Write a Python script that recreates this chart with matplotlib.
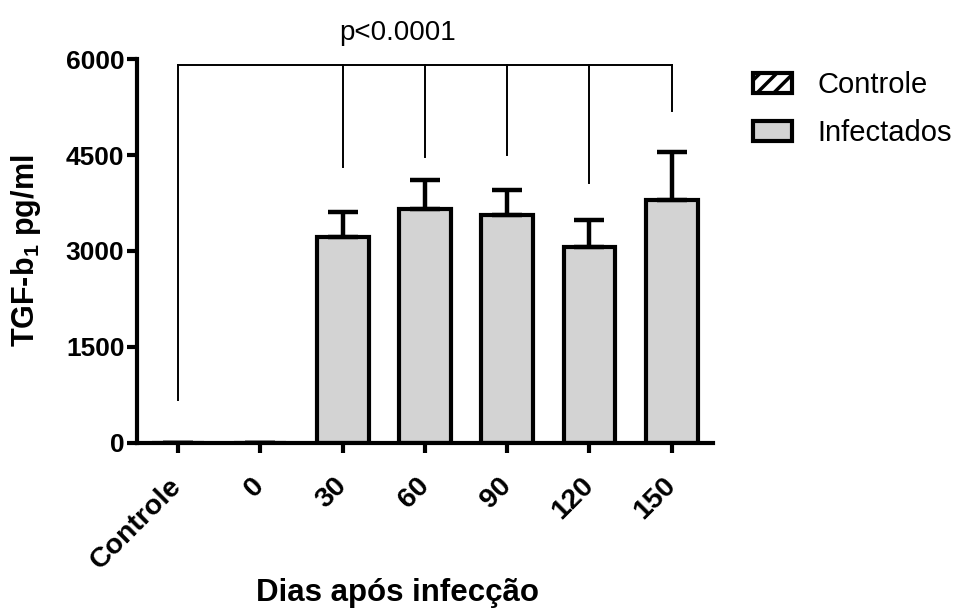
import numpy as np
import matplotlib
matplotlib.use("Agg")
import matplotlib.pyplot as plt
from matplotlib.patches import Patch
from matplotlib.transforms import ScaledTranslation

plt.rcParams['font.family'] = ['Liberation Sans', 'DejaVu Sans']
plt.rcParams['mathtext.fontset'] = 'custom'
plt.rcParams['mathtext.rm'] = 'Liberation Sans'
plt.rcParams['mathtext.bf'] = 'Liberation Sans:bold'
plt.rcParams['mathtext.default'] = 'bf'
plt.rcParams['hatch.linewidth'] = 2.5

# data
categories = ['Controle', '0', '30', '60', '90', '120', '150']
means = [0, 0, 3220, 3650, 3560, 3065, 3790]
sem = [0, 0, 385, 460, 390, 420, 760]
groups = ['Controle', 'Infectados', 'Infectados', 'Infectados', 'Infectados', 'Infectados', 'Infectados']

# significance bracket: top level and where each drop line stops
bracket_top = 5900
bracket_ends = [670, None, 4320, 4470, 4500, 4070, 5190]
p_label = 'p<0.0001'

x = np.arange(len(categories))

fig = plt.figure(figsize=(9.64, 6.09), dpi=100)
ax = fig.add_axes([0.142, 0.2726, 0.5975, 0.6305])

face = {'Controle': 'white', 'Infectados': '#d3d3d3'}
hatch = {'Controle': '//', 'Infectados': None}
ax.bar(x, means, width=0.63, color=[face[g] for g in groups],
       hatch=[hatch[g] for g in groups], edgecolor='black', linewidth=3, zorder=2)
ax.errorbar(x, means, yerr=[np.zeros(len(sem)), sem], fmt='none', ecolor='black',
            elinewidth=3.2, capsize=10.5, capthick=3.2, zorder=3)

# bracket
drop_x = [xi for xi, e in zip(x, bracket_ends) if e is not None]
drop_y = [e for e in bracket_ends if e is not None]
ax.plot([drop_x[0], drop_x[-1]], [bracket_top, bracket_top], color='black', lw=1.4,
        clip_on=False, zorder=4)
for xi, yi in zip(drop_x, drop_y):
    ax.plot([xi, xi], [bracket_top, yi], color='black', lw=1.4, clip_on=False, zorder=4)
ax.text(2.67, 6400, p_label, ha='center', va='center', fontsize=20, clip_on=False)

ax.set_xlim(-0.5, 6.5)
ax.set_ylim(0, 6000)
ax.set_yticks([0, 1500, 3000, 4500, 6000])
ax.set_xticks(x)
ax.set_xticklabels(categories, rotation=45, ha='right', va='center',
                   rotation_mode='anchor', fontsize=20.5, fontweight='bold')
for lab in ax.get_xticklabels():
    lab.set_transform(lab.get_transform() + ScaledTranslation(0.06, 0, fig.dpi_scale_trans))
for lab in ax.get_yticklabels():
    lab.set_fontsize(19)
    lab.set_fontweight('bold')

for side in ['top', 'right']:
    ax.spines[side].set_visible(False)
for side in ['left', 'bottom']:
    ax.spines[side].set_linewidth(3)
ax.tick_params(axis='both', direction='out', length=7, width=3)
ax.tick_params(axis='x', pad=21)
ax.tick_params(axis='y', pad=2)

ax.set_ylabel('TGF-b$_1$ pg/ml', fontsize=22, fontweight='bold')
ax.yaxis.set_label_coords(-0.163, 0.5)
ax.set_xlabel('Dias após infecção', fontsize=22.5, fontweight='bold')
ax.xaxis.set_label_coords(0.453, -0.352)

handles = [Patch(facecolor='white', edgecolor='black', hatch='//', linewidth=3),
           Patch(facecolor='#d3d3d3', edgecolor='black', linewidth=3)]
fig.legend(handles, ['Controle', 'Infectados'], loc='upper left',
           bbox_to_anchor=(0.781, 0.883), frameon=False, fontsize=21,
           handlelength=1.35, handleheight=0.7, handletextpad=0.85,
           labelspacing=0.68, borderaxespad=0, borderpad=0)

fig.savefig('out.png', dpi=100)
